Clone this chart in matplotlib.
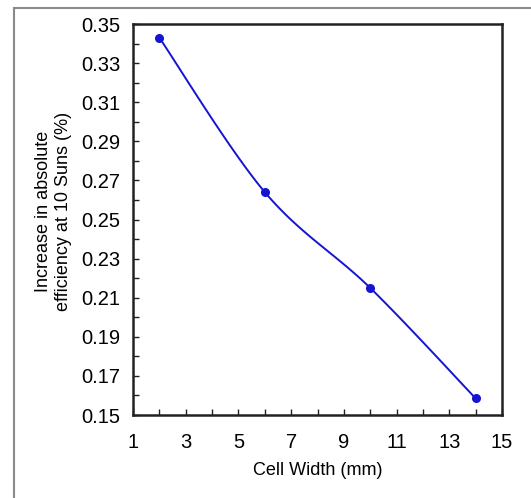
import numpy as np
import matplotlib
matplotlib.use("Agg")
import matplotlib.pyplot as plt
from matplotlib.patches import Rectangle
from matplotlib.ticker import FormatStrFormatter

plt.rcParams["font.family"] = ["Liberation Sans", "DejaVu Sans"]

# data
cell_width = [2, 6, 10, 14]
eff_increase = [0.343, 0.264, 0.215, 0.1585]

x_ticks = [1, 3, 5, 7, 9, 11, 13, 15]
y_ticks = [0.15, 0.17, 0.19, 0.21, 0.23, 0.25, 0.27, 0.29, 0.31, 0.33, 0.35]

x_label = "Cell Width (mm)"
y_label = "Increase in absolute\nefficiency at 10 Suns (%)"


def excel_smooth(xs, ys, n=40):
    # Excel-like smoothed line: cubic bezier with catmull-rom style controls
    pts = np.column_stack([xs, ys]).astype(float)
    scale = np.array([1.0 / 14, 1.0 / 0.2])
    p = pts * scale
    out = []
    for i in range(len(p) - 1):
        p0 = p[i - 1] if i > 0 else p[i]
        p1, p2 = p[i], p[i + 1]
        p3 = p[i + 2] if i + 2 < len(p) else p[i + 1]
        c1 = p1 + (p2 - p0) / 6
        c2 = p2 - (p3 - p1) / 6
        t = np.linspace(0, 1, n)[:, None]
        seg = ((1 - t) ** 3) * p1 + 3 * ((1 - t) ** 2) * t * c1 + 3 * (1 - t) * t ** 2 * c2 + t ** 3 * p2
        out.append(seg if i == 0 else seg[1:])
    out = np.vstack(out) / scale
    return out[:, 0], out[:, 1]


fig = plt.figure(figsize=(5.31, 4.98), dpi=100)
ax = fig.add_axes([133 / 531, 1 - 415 / 498, (502 - 133) / 531, (415 - 24) / 498])

sx, sy = excel_smooth(cell_width, eff_increase)
ax.plot(sx, sy, color="#1414d2", lw=1.4, zorder=3)
ax.plot(cell_width, eff_increase, "o", color="#1414d2", ms=5.5, zorder=4)

ax.set_xlim(1, 15)
ax.set_ylim(0.15, 0.35)
ax.set_xticks(x_ticks)
ax.set_xticks(np.arange(1, 16, 1), minor=True)
ax.set_yticks(y_ticks)
ax.set_yticks(np.arange(0.15, 0.3501, 0.01), minor=True)
ax.yaxis.set_major_formatter(FormatStrFormatter("%.2f"))
ax.tick_params(which="both", direction="in", length=4, width=1, color="#222222",
               top=False, right=False)
ax.tick_params(which="major", labelsize=14.5)
ax.tick_params(axis="x", pad=13)
ax.tick_params(axis="y", pad=9)
for s in ax.spines.values():
    s.set_linewidth(1.8)
    s.set_color("#222222")

ax.set_xlabel(x_label, fontsize=13)
ax.xaxis.set_label_coords(0.5, -0.12)
ax.set_ylabel(y_label, fontsize=13, linespacing=1.25)
ax.yaxis.set_label_coords(-0.165, 0.52)

# grey frame around the whole chart area
fig.patches.append(Rectangle((14 / 531, -0.1), 1.2, 1 - 8 / 498 + 0.1,
                             transform=fig.transFigure, fill=False,
                             edgecolor="#8a8a8a", lw=1.5))

fig.savefig("out.png", dpi=100)
